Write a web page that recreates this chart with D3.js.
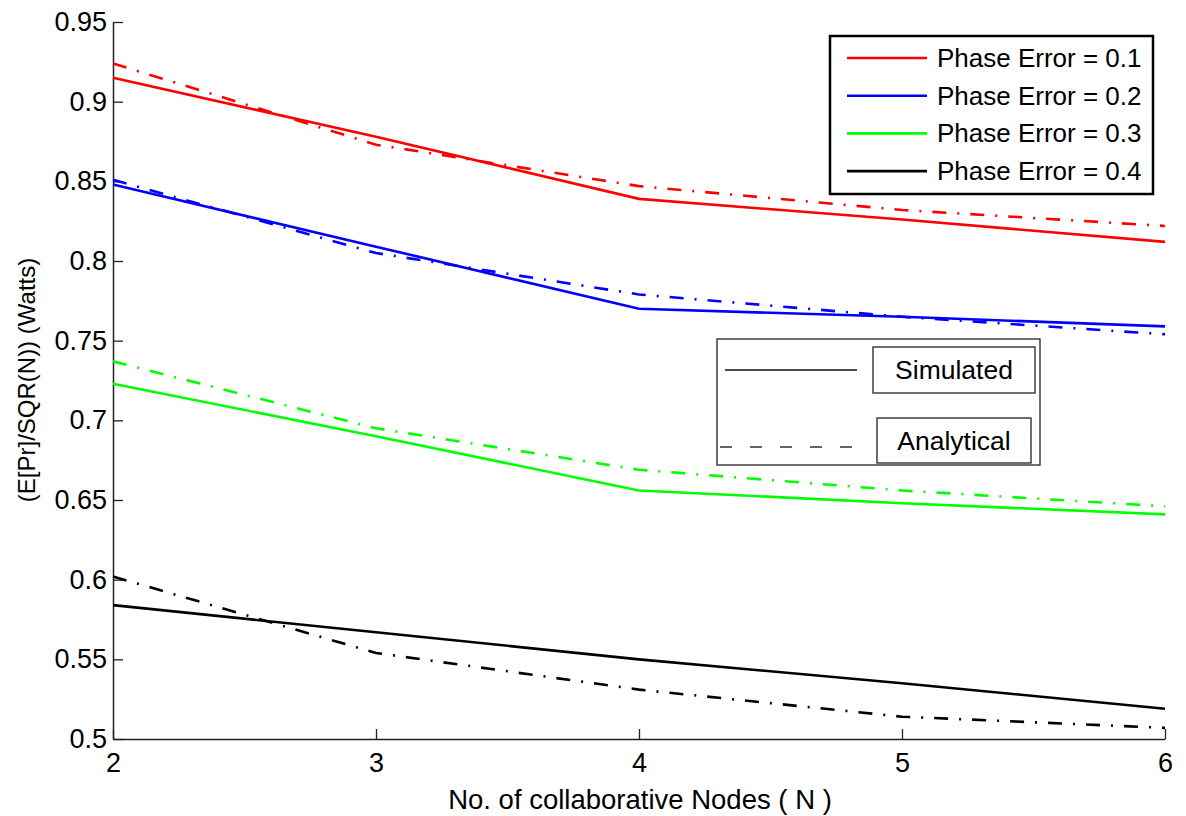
<!DOCTYPE html>
<html>
<head>
<meta charset="utf-8">
<script src="https://cdn.jsdelivr.net/npm/d3@7"></script>
<style>
  html, body { margin: 0; padding: 0; background: #fff; }
  svg { display: block; font-family: "Liberation Sans", Arial, Helvetica, sans-serif; }
</style>
</head>
<body>
<svg id="chart" width="1186" height="816"></svg>
<script>
// Number of collaborative nodes
const nodes = [2, 3, 4, 5, 6];

// Simulated received power, one array per phase error
const simPE01 = [0.915, 0.878, 0.839, 0.826, 0.812];
const simPE02 = [0.848, 0.809, 0.770, 0.765, 0.759];
const simPE03 = [0.723, 0.690, 0.656, 0.648, 0.641];
const simPE04 = [0.584, 0.567, 0.550, 0.535, 0.519];

// Analytical received power, one array per phase error
const anaPE01 = [0.924, 0.873, 0.847, 0.832, 0.822];
const anaPE02 = [0.851, 0.805, 0.779, 0.765, 0.754];
const anaPE03 = [0.737, 0.695, 0.669, 0.656, 0.646];
const anaPE04 = [0.602, 0.554, 0.531, 0.514, 0.507];

const phaseErrors = ["0.1", "0.2", "0.3", "0.4"];
const seriesColors = ["#ff0000", "#0000ff", "#00ff00", "#000000"];

const xTicks = [2, 3, 4, 5, 6];
const yTicks = [0.5, 0.55, 0.6, 0.65, 0.7, 0.75, 0.8, 0.85, 0.9, 0.95];
const yTickLabels = ["0.5", "0.55", "0.6", "0.65", "0.7", "0.75", "0.8", "0.85", "0.9", "0.95"];

const xLabel = "No. of collaborative Nodes ( N )";
const yLabel = "(E[Pr]/SQR(N)) (Watts)";
const styleLabels = ["Simulated", "Analytical"];

const simulated = [simPE01, simPE02, simPE03, simPE04];
const analytical = [anaPE01, anaPE02, anaPE03, anaPE04];

const svg = d3.select("#chart");

const x = d3.scaleLinear().domain([2, 6]).range([113, 1165]);
const y = d3.scaleLinear().domain([0.5, 0.95]).range([739, 22]);

const line = d3.line()
  .x(d => x(d[0]))
  .y(d => y(d[1]));

// Axes: left and bottom only, ticks pointing inward
const xAxis = d3.axisBottom(x)
  .tickValues(xTicks)
  .tickFormat(d3.format("d"))
  .tickSizeInner(-10)
  .tickSizeOuter(0)
  .tickPadding(14);

const yAxis = d3.axisLeft(y)
  .tickValues(yTicks)
  .tickFormat((d, i) => yTickLabels[i])
  .tickSizeInner(-10)
  .tickSizeOuter(0)
  .tickPadding(6);

const gx = svg.append("g").attr("transform", `translate(0,${y(0.5)})`).call(xAxis);
const gy = svg.append("g").attr("transform", `translate(${x(2)},0)`).call(yAxis);

[gx, gy].forEach(g => {
  g.select(".domain").attr("stroke", "#222").attr("stroke-width", 1.5);
  g.selectAll(".tick line").attr("stroke", "#222").attr("stroke-width", 1.3);
  g.selectAll(".tick text")
    .attr("fill", "#000")
    .style("font-size", "27px")
    .style("font-family", "'Liberation Sans', Arial, sans-serif");
});
gx.selectAll(".tick text").attr("dy", "0.71em");

// Data lines
const plot = svg.append("g");
simulated.forEach((vals, i) => {
  plot.append("path")
    .datum(nodes.map((n, j) => [n, vals[j]]))
    .attr("d", line)
    .attr("fill", "none")
    .attr("stroke", seriesColors[i])
    .attr("stroke-width", 2.6)
    .attr("stroke-linejoin", "round");
});
analytical.forEach((vals, i) => {
  plot.append("path")
    .datum(nodes.map((n, j) => [n, vals[j]]))
    .attr("d", line)
    .attr("fill", "none")
    .attr("stroke", seriesColors[i])
    .attr("stroke-width", 2.6)
    .attr("stroke-dasharray", "14 11 2 11");
});

// Axis titles
svg.append("text")
  .attr("x", 640)
  .attr("y", 809)
  .attr("text-anchor", "middle")
  .style("font-size", "27.5px")
  .attr("fill", "#000")
  .text(xLabel);

svg.append("text")
  .attr("transform", `translate(35,${380}) rotate(-90)`)
  .attr("text-anchor", "middle")
  .style("font-size", "24px")
  .attr("fill", "#000")
  .text(yLabel);

// Phase error legend
const leg = svg.append("g");
leg.append("rect")
  .attr("x", 830).attr("y", 36)
  .attr("width", 323).attr("height", 158)
  .attr("fill", "#fff")
  .attr("stroke", "#000")
  .attr("stroke-width", 2.5);
phaseErrors.forEach((pe, i) => {
  const ly = 58 + i * 37.7;
  leg.append("line")
    .attr("x1", 847).attr("x2", 927)
    .attr("y1", ly).attr("y2", ly)
    .attr("stroke", seriesColors[i])
    .attr("stroke-width", 2.6);
  leg.append("text")
    .attr("x", 937).attr("y", ly + 9)
    .style("font-size", "26px")
    .attr("fill", "#000")
    .text(`Phase Error = ${pe}`);
});

// Line style legend
const leg2 = svg.append("g");
leg2.append("rect")
  .attr("x", 717).attr("y", 339)
  .attr("width", 323).attr("height", 126)
  .attr("fill", "#fff")
  .attr("stroke", "#333")
  .attr("stroke-width", 1.4);
leg2.append("line")
  .attr("x1", 725).attr("x2", 857)
  .attr("y1", 370).attr("y2", 370)
  .attr("stroke", "#111")
  .attr("stroke-width", 1.5);
leg2.append("line")
  .attr("x1", 720).attr("x2", 857)
  .attr("y1", 447).attr("y2", 447)
  .attr("stroke", "#333")
  .attr("stroke-width", 1.5)
  .attr("stroke-dasharray", "12 18");
const boxes = [
  { x0: 873, y0: 347, w: 162, h: 46 },
  { x0: 877, y0: 418, w: 154, h: 45 }
];
boxes.forEach((b, i) => {
  leg2.append("rect")
    .attr("x", b.x0).attr("y", b.y0)
    .attr("width", b.w).attr("height", b.h)
    .attr("fill", "#fff")
    .attr("stroke", "#333")
    .attr("stroke-width", 1.4);
  leg2.append("text")
    .attr("x", b.x0 + b.w / 2).attr("y", b.y0 + b.h / 2 + 9)
    .attr("text-anchor", "middle")
    .style("font-size", "26.5px")
    .attr("fill", "#000")
    .text(styleLabels[i]);
});
</script>
</body>
</html>
